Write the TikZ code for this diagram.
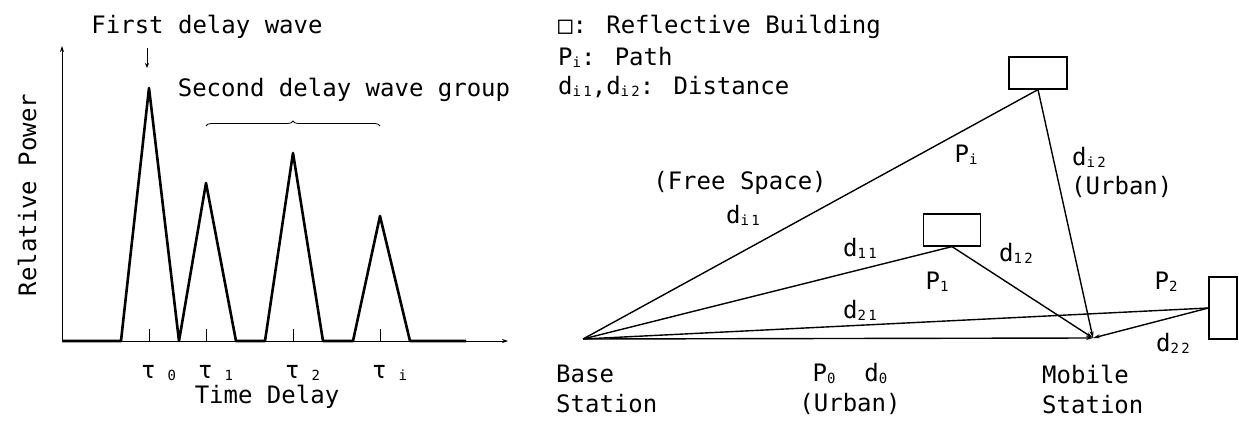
\documentclass[tikz,border=0pt]{standalone}
\usepackage{fontspec}
\setmainfont{DejaVu Sans Mono}
\usetikzlibrary{arrows.meta,decorations.pathreplacing}
\newcommand{\lsub}[1]{\raisebox{-2pt}{\fontsize{14}{14}\selectfont #1}}

\begin{document}
\begin{tikzpicture}[x=1pt,y=-1pt,
    every node/.style={font=\fontsize{24}{30}\selectfont, inner sep=0pt},
    axis/.style={line width=0.8pt, -{Stealth[length=6pt,width=4pt]}},
    pulse/.style={line width=2.6pt, line join=round},
    ray/.style={line width=1.4pt},
    building/.style={draw, line width=1.2pt, rectangle}]
        \useasboundingbox (0,0) rectangle (1239,422);
        % Perfil de retard: eixos i polsos
        \draw[axis] (62,341) -- (62,46);
        \draw[axis] (62,341) -- (508,341);
        \draw[pulse] (62,341) -- (121,341) -- (149,88) -- (179,341)
                     -- (206,183) -- (236,341) -- (265,341)
                     -- (293,153) -- (323,341) -- (353,341)
                     -- (380,216) -- (410,341) -- (466,341);
        \foreach \x in {149,206,293,380}
            \draw[line width=0.8pt] (\x,329) -- (\x,341); % marques
        \node (t0) [anchor=west] at (141,373) {τ\hspace{12pt}\lsub{0}};
        \node (t1) [anchor=west] at (198,373) {τ\hspace{12pt}\lsub{1}};
        \node (t2) [anchor=west] at (285,373) {τ\hspace{12pt}\lsub{2}};
        \node (ti) [anchor=west] at (372,373) {τ\hspace{12pt}\lsub{i}};
        \node (tdelay) at (267,397) {Time Delay};
        \node (rpower) [rotate=90] at (27,195) {Relative Power};
        \node (first) at (207,27) {First delay wave};
        \draw[line width=0.8pt, -{Stealth[length=5pt,width=4pt]}] (147,48) -- (147,68);
        \node (second) at (344,90) {Second delay wave group};
        \draw[line width=0.8pt, decorate, decoration={brace, amplitude=5pt}]
            (206,126) -- (380,126);

        % Llegenda
        \node (leg1) [anchor=west] at (558,27) {□: Reflective Building};
        \node (leg2) [anchor=west] at (558,57) {P\lsub{i}: Path};
        \node (leg3) [anchor=west] at (558,87) {d\lsub{i\,1},d\lsub{i\,2}: Distance};

        % Estacions i edificis
        \coordinate (bs) at (583,339);
        \coordinate (ms) at (1093,338);
        \node[building, minimum width=58pt, minimum height=32pt] (bi) at (1038,73) {};
        \node[building, minimum width=57pt, minimum height=32pt] (b1) at (952,230) {};
        \node[building, minimum width=28pt, minimum height=62pt] (b2) at (1223,308) {};

        % Camins
        \draw[ray] (bs) -- (bi.south);
        \draw[ray, -{Stealth[length=7pt,width=4pt]}] (bi.south) -- (ms);
        \draw[ray] (bs) -- (b1.south);
        \draw[ray, -{Stealth[length=7pt,width=4pt]}] (b1.south) -- (ms);
        \draw[ray] (bs) -- (b2.west);
        \draw[ray, -{Stealth[length=7pt,width=4pt]}] (b2.west) -- (ms);
        \draw[ray, -{Stealth[length=7pt,width=4pt]}] (bs) -- (ms);

        % Etiquetes dels camins
        \node (free) at (740,183) {(Free Space)};
        \node (di1) at (743,215) {d\lsub{i\,1}};
        \node (pi) at (966,155) {P\lsub{i}};
        \node (di2) [anchor=west] at (1072,157) {d\lsub{i\,2}};
        \node (urb2) [anchor=west] at (1071,187) {(Urban)};
        \node (d11) at (860,248) {d\lsub{1\,1}};
        \node (p1) at (937,282) {P\lsub{1}};
        \node (d12) at (1016,253) {d\lsub{1\,2}};
        \node (p2) at (1166,282) {P\lsub{2}};
        \node (d21) at (860,310) {d\lsub{2\,1}};
        \node (d22) at (1173,343) {d\lsub{2\,2}};
        \node (p0) [align=center] at (850,389) {P\lsub{0}\ \ d\lsub{0}\\(Urban)};
        \node (base) [anchor=west, align=left] at (556,389) {Base\\Station};
        \node (mobile) [anchor=west, align=left] at (1042,389) {Mobile\\Station};
\end{tikzpicture}
\end{document}
